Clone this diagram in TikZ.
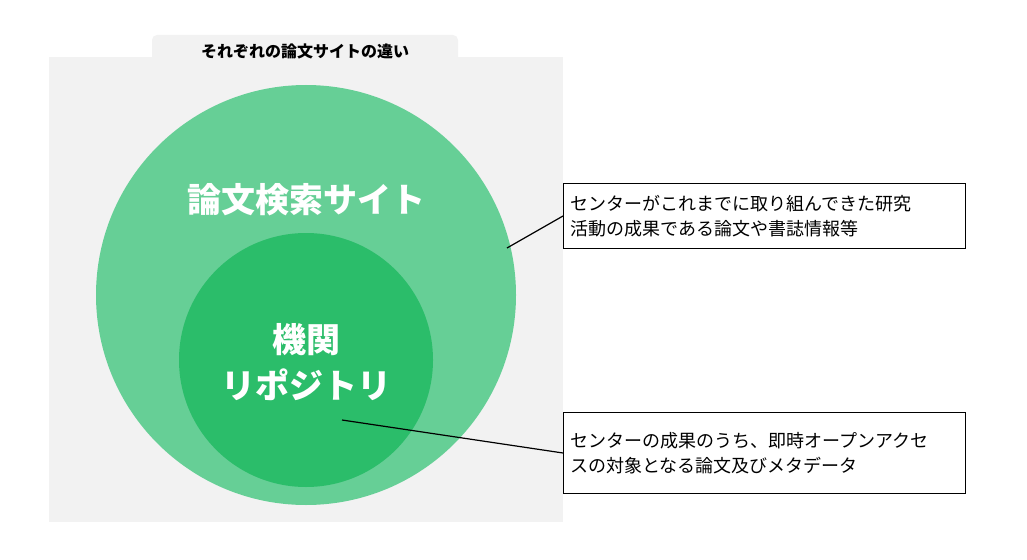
\documentclass[tikz,border=0pt]{standalone}
\usepackage{fontspec}
\setmainfont{Noto Sans CJK JP}
\newfontfamily\jpb{Noto Sans CJK JP}[FakeBold=0]
\begin{document}
\begin{tikzpicture}[x=1pt,y=-1pt,
  note/.style={draw=black,line width=1pt,fill=white,align=left,font=\fontsize{18}{25}\selectfont,inner sep=6pt,anchor=north west,minimum width=402pt,minimum height=65pt,text width=388pt},
  wtext/.style={text=white,font=\bfseries\fontsize{34}{46}\selectfont,align=center}]
\useasboundingbox (0,0) rectangle (1027,559);
\definecolor{bg}{HTML}{F2F2F2}
\definecolor{outerg}{HTML}{66CF96}
\definecolor{innerg}{HTML}{2BBD6A}
\fill[bg] (49,57) rectangle (563,522);
\fill[bg,rounded corners=5pt] (152,35) rectangle (458,70);
\node[font=\bfseries\fontsize{16}{20}\selectfont] (title) at (305,51) {それぞれの論文サイトの違い};
\fill[outerg] (306,295) circle (210);
\fill[innerg] (306,360) circle (127);
\node[wtext] (outer) at (306,200) {論文検索サイト};
\node[wtext] (inner) at (306,362) {機関\\リポジトリ};
\node[note] (n1) at (563,183) {センターがこれまでに取り組んできた研究\\活動の成果である論文や書誌情報等};
\node[note,minimum height=81pt] (n2) at (563,412) {センターの成果のうち、即時オープンアクセ\\スの対象となる論文及びメタデータ};
\coordinate (p1) at (507,248);
\coordinate (p2) at (342,420);
\draw[line width=1.2pt] (p1) -- (n1.west);
\draw[line width=1.2pt] (p2) -- (n2.west);
\end{tikzpicture}
\end{document}
